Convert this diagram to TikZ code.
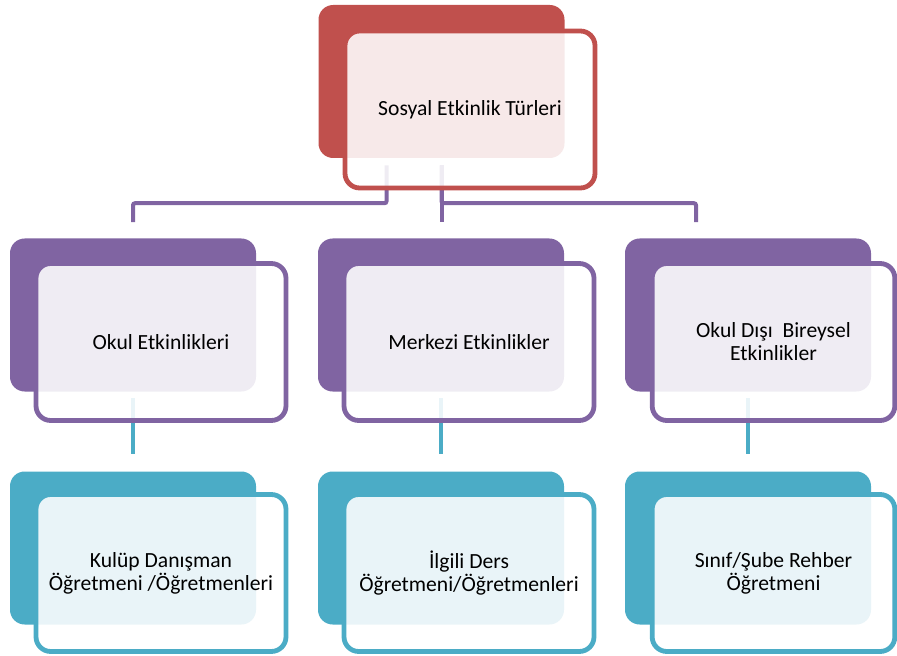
\documentclass[tikz,border=0pt]{standalone}
\usepackage{fontspec}
\setmainfont{Carlito}
\usetikzlibrary{calc}

\definecolor{kirmizi}{HTML}{C0504D}
\definecolor{mor}{HTML}{8064A2}
\definecolor{turkuaz}{HTML}{4BACC6}

\tikzset{
	boxback/.style={rectangle, rounded corners=11pt, minimum width=184.5pt, minimum height=114.75pt, inner sep=0pt, fill=#1},
	boxfront/.style={rectangle, rounded corners=11pt, minimum width=187.5pt, minimum height=117.75pt, inner sep=0pt,
		draw=#1, line width=3.6pt, fill=white, fill opacity=0.88, text opacity=1, align=center,
		font=\fontsize{16.2pt}{17.3pt}\selectfont},
	link/.style={draw=#1, line width=3pt, rounded corners=1.5pt},
}

\begin{document}
\begin{tikzpicture}[x=0.75pt, y=-0.75pt]

	\useasboundingbox (0,0) rectangle (897,656);

	% arka kutular
	\node[boxback=kirmizi] (turb) at (441.5,81.5) {};
	\node[boxback=mor] (okulb) at (133,315) {};
	\node[boxback=mor] (merkb) at (441,315) {};
	\node[boxback=mor] (disb) at (748,315) {};
	\node[boxback=turkuaz] (kulb) at (133,548) {};
	\node[boxback=turkuaz] (ilgb) at (441,548) {};
	\node[boxback=turkuaz] (sinb) at (748,548) {};

	% baglantilar
	\draw[link=mor] ($(turb.south)+(-55,7)$) |- ($(okulb.north)+(0,-35)$) -- ($(okulb.north)+(0,-16)$);
	\draw[link=mor] ($(turb.south)+(0,7)$) -- ($(turb.south |- merkb.north)+(0,-16)$);
	\draw[link=mor] ($(turb.south)+(0,7)$) |- ($(disb.north)+(-52,-35)$) -- ($(disb.north)+(-52,-16)$);
	\draw[link=turkuaz] ($(okulb.south)+(0,6)$) -- ($(kulb.north)+(0,-17)$);
	\draw[link=turkuaz] ($(merkb.south)+(0,6)$) -- ($(ilgb.north)+(0,-17)$);
	\draw[link=turkuaz] ($(disb.south)+(0,6)$) -- ($(sinb.north)+(0,-17)$);

	% on kutular
	\node[boxfront=kirmizi] (tur) at ([shift={(28.5,28)}]turb.center) {Sosyal Etkinlik Türleri};
	\node[boxfront=mor] (okul) at ([shift={(28,27)}]okulb.center) {Okul Etkinlikleri};
	\node[boxfront=mor] (merk) at ([shift={(28,27)}]merkb.center) {Merkezi Etkinlikler};
	\node[boxfront=mor, minimum width=182pt] (dis) at ([shift={(25.5,27)}]disb.center) {Okul Dışı\ \ Bireysel\\Etkinlikler};
	\node[boxfront=turkuaz] (kul) at ([shift={(28,25)}]kulb.center) {Kulüp Danışman\\Öğretmeni /Öğretmenleri};
	\node[boxfront=turkuaz] (ilg) at ([shift={(28,25)}]ilgb.center) {İlgili Ders\\Öğretmeni/Öğretmenleri};
	\node[boxfront=turkuaz, minimum width=182pt] (sin) at ([shift={(25.5,25)}]sinb.center) {Sınıf/Şube Rehber\\Öğretmeni};

\end{tikzpicture}
\end{document}
